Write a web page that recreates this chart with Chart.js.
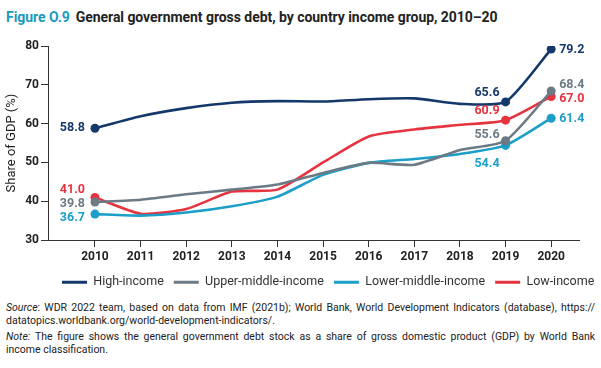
<!DOCTYPE html>
<html>
<head>
<meta charset="utf-8">
<script src="https://cdn.jsdelivr.net/npm/chart.js@4.4.0/dist/chart.umd.min.js"></script>
<style>
  body { margin: 0; background: #fff; font-family: Roboto, sans-serif; }
  #wrap { position: relative; width: 601px; height: 368px; overflow: hidden; }
  #title { position: absolute; left: 6px; top: 9px; font-size: 14px; font-weight: bold; color: #222; letter-spacing: -0.05px; white-space: nowrap; }
  #title .fig { color: #1a9ac0; margin-right: 6px; }
  #chartBox { position: absolute; left: 0; top: 28px; width: 601px; height: 272px; }
  #notes { position: absolute; left: 6px; top: 302px; width: 589px; font-size: 10.5px; line-height: 12.5px; color: #222; }
  #notes .j { text-align: justify; text-align-last: justify; }
  #notes .gap { height: 4px; }
</style>
</head>
<body>
<div id="wrap">
  <div id="title"><span class="fig">Figure O.9</span>General government gross debt, by country income group, 2010–20</div>
  <div id="chartBox"><canvas id="debtChart"></canvas></div>
  <div id="notes">
    <div class="j"><i>Source</i>: WDR 2022 team, based on data from IMF (2021b); World Bank, World Development Indicators (database), https://</div>
    <div>datatopics.worldbank.org/world-development-indicators/.</div>
    <div class="gap"></div>
    <div class="j"><i>Note:</i> The figure shows the general government debt stock as a share of gross domestic product (GDP) by World Bank</div>
    <div>income classification.</div>
  </div>
</div>
<script>
// Data (% of GDP)
const years = [2010, 2011, 2012, 2013, 2014, 2015, 2016, 2017, 2018, 2019, 2020];
const highIncome = [58.8, 61.9, 64.0, 65.4, 65.8, 65.7, 66.3, 66.5, 65.1, 65.6, 79.2];
const upperMiddleIncome = [39.8, 40.4, 41.8, 43.0, 44.3, 47.3, 49.9, 49.4, 53.2, 55.6, 68.4];
const lowerMiddleIncome = [36.7, 36.3, 37.1, 38.7, 41.2, 46.8, 49.9, 50.9, 52.2, 54.4, 61.4];
const lowIncome = [41.0, 36.8, 38.0, 42.5, 43.0, 50.0, 56.7, 58.5, 59.7, 60.9, 67.0];
const seriesNames = ['High-income', 'Upper-middle-income', 'Lower-middle-income', 'Low-income'];
const yTicks = [30, 40, 50, 60, 70, 80];
const labelledIdx = [0, 9, 10];

const colors = ['#15386a', '#6b7a84', '#1b9ec8', '#e63340'];

// where to put the value labels: [align, dx, dy] for each labelled point
const labelPos = [
    [['right', -10, 0], ['right', -6, -9], ['left', 8, 1]],
    [['right', -10, 2], ['right', -6, -6], ['left', 8, -6]],
    [['right', -10, 4], ['right', -6, 18], ['left', 8, 1]],
    [['right', -10, -8], ['right', -6, -9], ['left', 8, 2]]
];

function toPoints(values) {
    return years.map((y, i) => ({ x: y, y: values[i] }));
}

const valueLabels = {
    id: 'valueLabels',
    afterDatasetsDraw(chart) {
        const ctx = chart.ctx;
        ctx.save();
        ctx.font = 'bold 12.5px Roboto';
        ctx.textBaseline = 'middle';
        chart.data.datasets.forEach((ds, di) => {
            const meta = chart.getDatasetMeta(di);
            labelledIdx.forEach((idx, k) => {
                const pt = meta.data[idx];
                const [align, dx, dy] = labelPos[di][k];
                ctx.fillStyle = ds.borderColor;
                ctx.textAlign = align;
                ctx.fillText(ds.data[idx].y.toFixed(1), pt.x + dx, pt.y + dy);
            });
        });
        ctx.restore();
    }
};

// nudge the legend row to where it sits in the figure (a bit right of centre)
const legendNudge = {
    id: 'legendNudge',
    afterLayout(chart) {
        const lg = chart.legend;
        const shift = 52 - lg.left;
        lg.left += shift;
        lg.right += shift;
        lg.top = 238;
    }
};

function makeDataset(name, values, color) {
    return {
        label: name,
        data: toPoints(values),
        borderColor: color,
        backgroundColor: color,
        borderWidth: 2.6,
        tension: 0.2,
        pointRadius: c => labelledIdx.includes(c.dataIndex) ? 4.5 : 0,
        pointHoverRadius: 4.5,
        pointBorderWidth: 0
    };
}

const seriesValues = [highIncome, upperMiddleIncome, lowerMiddleIncome, lowIncome];

new Chart(document.getElementById('debtChart'), {
    type: 'line',
    data: {
        datasets: seriesValues.map((v, i) => makeDataset(seriesNames[i], v, colors[i]))
    },
    plugins: [valueLabels, legendNudge],
    options: {
        responsive: true,
        maintainAspectRatio: false,
        animation: false,
        layout: { padding: { top: 18, right: 22, left: 0, bottom: 0 } },
        plugins: {
            legend: {
                position: 'bottom',
                align: 'start',
                labels: {
                    boxWidth: 25,
                    boxHeight: 3,
                    padding: 10,
                    color: '#333',
                    font: { family: 'Roboto', size: 12.5 },
                    generateLabels: chart => Chart.defaults.plugins.legend.labels.generateLabels(chart)
                        .map(l => Object.assign(l, { lineWidth: 0, fillStyle: l.strokeStyle }))
                }
            },
            tooltip: { enabled: false }
        },
        scales: {
            x: {
                type: 'linear',
                min: 2008.97,
                max: 2020.61,
                afterBuildTicks: s => { s.ticks = years.map(v => ({ value: v })); },
                ticks: {
                    callback: v => String(v),
                    color: '#222',
                    font: { family: 'Roboto', size: 12, weight: 'bold' },
                    maxRotation: 0,
                    padding: 3
                },
                grid: { drawOnChartArea: false, drawTicks: true, tickLength: 7, color: '#333' },
                border: { color: '#333', width: 1 }
            },
            y: {
                min: 30,
                max: 80,
                afterBuildTicks: s => { s.ticks = yTicks.map(v => ({ value: v })); },
                afterFit: s => { s.width = 48; },
                title: {
                    display: true,
                    text: 'Share of GDP (%)',
                    color: '#222',
                    font: { family: 'Roboto', size: 13 },
                    padding: { top: 4, bottom: 0 }
                },
                ticks: {
                    color: '#222',
                    font: { family: 'Roboto', size: 12, weight: 'bold' },
                    padding: 2
                },
                grid: { drawOnChartArea: false, drawTicks: true, tickLength: 7, color: '#333' },
                border: { color: '#333', width: 1 }
            }
        }
    }
});
</script>
</body>
</html>
